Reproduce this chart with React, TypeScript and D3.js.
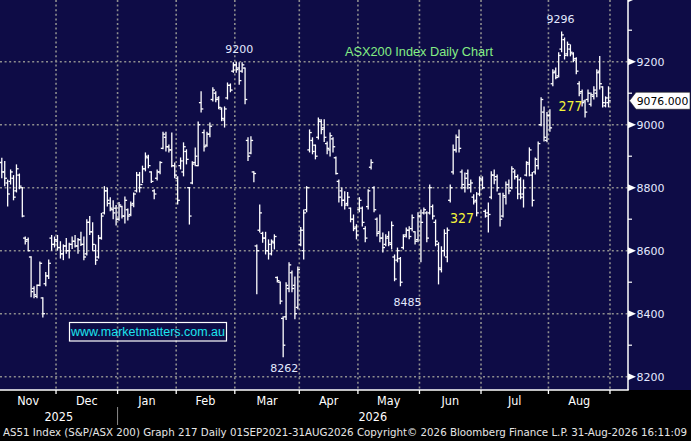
import React from "react";
import * as d3 from "d3";

// daily bars per month: [open, high, low, close]
const nov = [
  [8880, 8895, 8830, 8850], [8850, 8885, 8805, 8830], [8815, 8826, 8740, 8780],
  [8820, 8858, 8810, 8850], [8830, 8840, 8760, 8770], [8790, 8874, 8785, 8860],
  [8840, 8845, 8795, 8805], [8800, 8802, 8706, 8710], [8640, 8645, 8620, 8630],
  [8635, 8642, 8598, 8600], [8580, 8582, 8452, 8470], [8480, 8487, 8449, 8460],
  [8455, 8493, 8449, 8490], [8490, 8566, 8487, 8560], [8450, 8452, 8388, 8400],
  [8495, 8532, 8487, 8520], [8520, 8572, 8510, 8560], [8640, 8650, 8600, 8620],
  [8620, 8645, 8610, 8635],
];
const dec = [
  [8630, 8650, 8600, 8610], [8610, 8630, 8575, 8590], [8590, 8620, 8570, 8615],
  [8615, 8640, 8590, 8600], [8600, 8625, 8575, 8620], [8620, 8645, 8605, 8630],
  [8630, 8650, 8610, 8615], [8615, 8640, 8590, 8635], [8635, 8660, 8615, 8620],
  [8620, 8645, 8570, 8580], [8590, 8700, 8585, 8690], [8690, 8710, 8650, 8660],
  [8660, 8690, 8600, 8620], [8600, 8620, 8555, 8570], [8580, 8650, 8575, 8640],
  [8640, 8720, 8635, 8710], [8720, 8805, 8715, 8790], [8790, 8800, 8740, 8760],
  [8750, 8770, 8725, 8735], [8730, 8760, 8700, 8720], [8735, 8745, 8680, 8700],
];
const jan = [
  [8700, 8755, 8695, 8745], [8740, 8743, 8702, 8710], [8710, 8772, 8686, 8760],
  [8730, 8734, 8696, 8710], [8715, 8756, 8709, 8745], [8750, 8785, 8738, 8780],
  [8790, 8850, 8785, 8840], [8840, 8850, 8785, 8800], [8810, 8870, 8815, 8860],
  [8860, 8912, 8852, 8900], [8895, 8905, 8862, 8870], [8850, 8852, 8815, 8820],
  [8790, 8795, 8763, 8780], [8830, 8858, 8823, 8850], [8850, 8884, 8843, 8880],
  [8925, 8978, 8922, 8970], [8960, 8978, 8915, 8930], [8930, 8937, 8912, 8920],
  [8920, 8975, 8865, 8870], [8870, 8880, 8830, 8840],
];
const feb = [
  [8830, 8836, 8747, 8760], [8870, 8896, 8858, 8885], [8850, 8944, 8836, 8930],
  [8915, 8922, 8874, 8890], [8800, 8802, 8683, 8710], [8815, 8884, 8811, 8875],
  [8880, 8928, 8868, 8900], [8870, 9010, 8868, 9000], [9070, 9106, 9039, 9050],
  [8975, 8985, 8915, 8930], [8935, 8978, 8930, 8970], [8970, 9007, 8960, 8995],
  [9080, 9119, 9074, 9110], [9100, 9106, 9071, 9080], [9085, 9090, 9049, 9055],
  [9050, 9055, 9011, 9020], [9015, 9058, 8991, 9050], [9085, 9134, 9080, 9125],
  [9125, 9131, 9103, 9110], [9170, 9198, 9165, 9190],
];
const mar = [
  [9190, 9200, 9165, 9175], [9180, 9198, 9127, 9140], [9170, 9198, 9165, 9190],
  [9180, 9182, 9065, 9080], [8950, 8960, 8885, 8900], [8910, 8963, 8906, 8950],
  [8850, 8852, 8817, 8845], [8615, 8620, 8462, 8600], [8665, 8747, 8658, 8720],
  [8655, 8660, 8625, 8640], [8640, 8660, 8588, 8600], [8600, 8636, 8572, 8620],
  [8590, 8636, 8585, 8630], [8625, 8652, 8604, 8645], [8515, 8518, 8499, 8505],
  [8500, 8502, 8430, 8440], [8385, 8392, 8262, 8300], [8390, 8500, 8380, 8490],
  [8480, 8563, 8468, 8555], [8530, 8537, 8468, 8480], [8490, 8518, 8382, 8400],
  [8420, 8550, 8414, 8540],
];
const apr = [
  [8620, 8675, 8614, 8665], [8600, 8731, 8572, 8720], [8730, 8805, 8722, 8800],
  [8920, 8985, 8912, 8975], [8950, 8960, 8906, 8915], [8935, 8937, 8890, 8900],
  [8960, 9023, 8953, 9015], [9010, 9017, 8970, 8985], [8990, 9017, 8945, 8960],
  [8940, 8947, 8906, 8925], [8920, 8975, 8899, 8965], [8955, 8960, 8912, 8930],
  [8895, 8899, 8842, 8845], [8820, 8826, 8753, 8770], [8790, 8801, 8741, 8760],
  [8760, 8789, 8731, 8745], [8750, 8786, 8741, 8770], [8735, 8737, 8690, 8700],
  [8700, 8715, 8662, 8670], [8675, 8684, 8636, 8650],
];
const may = [
  [8730, 8770, 8722, 8760], [8735, 8740, 8677, 8690], [8670, 8678, 8627, 8640],
  [8740, 8795, 8731, 8790], [8865, 8890, 8858, 8880], [8800, 8805, 8722, 8730],
  [8700, 8705, 8645, 8655], [8660, 8715, 8627, 8640], [8640, 8658, 8594, 8610],
  [8620, 8652, 8614, 8640], [8645, 8662, 8614, 8625], [8620, 8693, 8604, 8680],
  [8580, 8588, 8503, 8510], [8570, 8610, 8563, 8600], [8575, 8580, 8487, 8500],
  [8610, 8652, 8604, 8645], [8650, 8674, 8642, 8665], [8665, 8678, 8636, 8645],
  [8670, 8715, 8662, 8705], [8660, 8662, 8620, 8630], [8635, 8722, 8627, 8710],
];
const jun = [
  [8710, 8731, 8563, 8690], [8720, 8737, 8715, 8730], [8720, 8725, 8627, 8640],
  [8720, 8810, 8715, 8800], [8740, 8747, 8699, 8710], [8690, 8699, 8614, 8630],
  [8620, 8627, 8493, 8545], [8540, 8614, 8531, 8600], [8600, 8668, 8582, 8655],
  [8580, 8674, 8563, 8665], [8760, 8810, 8753, 8800], [8850, 8937, 8842, 8920],
  [8920, 8969, 8912, 8960], [8960, 8985, 8912, 8925], [8850, 8858, 8795, 8810],
  [8800, 8848, 8785, 8830], [8845, 8858, 8795, 8810], [8800, 8826, 8785, 8815],
  [8770, 8779, 8747, 8755], [8760, 8786, 8709, 8720], [8780, 8836, 8773, 8830],
];
const jul = [
  [8825, 8836, 8795, 8800], [8725, 8731, 8705, 8710], [8720, 8753, 8658, 8715],
  [8770, 8852, 8763, 8840], [8840, 8858, 8811, 8825], [8835, 8842, 8788, 8800],
  [8780, 8784, 8677, 8700], [8710, 8784, 8705, 8775], [8770, 8820, 8747, 8810],
  [8810, 8826, 8779, 8790], [8800, 8868, 8795, 8860], [8850, 8858, 8826, 8835],
  [8835, 8842, 8763, 8780], [8825, 8833, 8763, 8770], [8780, 8826, 8737, 8800],
  [8840, 8884, 8836, 8880], [8875, 8928, 8836, 8920], [8840, 8850, 8740, 8760],
  [8850, 8896, 8842, 8890], [8870, 8947, 8858, 8940], [9000, 9087, 8995, 9080],
  [9040, 9058, 8947, 8960], [8950, 9040, 8944, 9030],
];
const aug = [
  [9030, 9049, 8978, 8990], [9130, 9176, 9122, 9165], [9170, 9182, 9144, 9150],
  [9155, 9230, 9150, 9220], [9240, 9296, 9230, 9285], [9270, 9277, 9207, 9220],
  [9225, 9264, 9217, 9255], [9240, 9255, 9217, 9230], [9225, 9230, 9198, 9205],
  [9210, 9214, 9160, 9170], [9130, 9138, 9090, 9100], [9105, 9112, 9058, 9070],
  [9075, 9080, 9023, 9040], [9080, 9112, 9071, 9100], [9065, 9102, 9058, 9095],
  [9090, 9122, 9080, 9110], [9100, 9176, 9087, 9165], [9170, 9218, 9112, 9130],
  [9120, 9122, 9055, 9070], [9060, 9090, 9055, 9085], [9070, 9122, 9055, 9076],
];

const monthBars = [nov, dec, jan, feb, mar, apr, may, jun, jul, aug];
const monthLabels = ["Nov", "Dec", "Jan", "Feb", "Mar", "Apr", "May", "Jun", "Jul", "Aug"];
const yearLabels = ["2025", "2026"];
const yearFirstMonth = [0, 2];

const majorTicks = [8200, 8400, 8600, 8800, 9000, 9200, 9400];
const minorTicks = [8300, 8500, 8700, 8900, 9100, 9300];
const lastPrice = 9076;

// white labels: text, bar index, price, x offset, y offset
const whiteNotes = [
  { text: "9200", bar: 80, price: 9200, dx: 3, dy: -12 },
  { text: "9296", bar: 191, price: 9296, dx: -1, dy: -12 },
  { text: "8262", bar: 96, price: 8262, dx: 1, dy: 11 },
  { text: "8485", bar: 136, price: 8487, dx: 7, dy: 16 },
];
const yellowNotes = [
  { text: "327", bar: 157, price: 8704 },
  { text: "277", bar: 194, price: 9059 },
];

const W = 691;
const H = 441;
const plotRight = 628;
const plotBottom = 390;

export default function App() {
  const bars = monthBars.flat();
  const starts: number[] = [];
  let acc = 0;
  monthBars.forEach((m) => {
    starts.push(acc);
    acc += m.length;
  });
  const n = bars.length;

  const x = d3.scaleLinear().domain([0, n - 1]).range([1.8, 1.8 + 2.931 * (n - 1)]);
  const y = d3.scaleLinear().domain([8189.5, 9395.9]).range([380, 0]);

  const boundaries = starts.slice(1).concat([n]).map((s) => x(s - 0.5));
  const axisFont = "'DejaVu Sans', Verdana, sans-serif";
  const narrow = "'Liberation Sans Narrow', 'Arial Narrow', 'DejaVu Sans Condensed', sans-serif";
  const sans = "'Liberation Sans', Arial, sans-serif";

  const yearEdges = [0, x(starts[yearFirstMonth[1]] - 0.5), plotRight];

  return (
    <div style={{ position: "absolute", left: 0, top: 0 }}>
      <svg width={W} height={H} style={{ display: "block", background: "#000" }}>
        <rect x={0} y={0} width={W} height={plotBottom} fill="#0e0c46" />

        {/* gridlines */}
        {majorTicks.filter((t) => y(t) > 2).map((t) => (
          <line key={"h" + t} x1={0} x2={plotRight} y1={y(t)} y2={y(t)}
            stroke="#8e8e8e" strokeWidth={1.6} strokeDasharray="2 2.6" />
        ))}
        {boundaries.map((bx, i) => (
          <line key={"v" + i} x1={bx} x2={bx} y1={0} y2={plotBottom}
            stroke="#8e8e8e" strokeWidth={1.6} strokeDasharray="2 2.6" />
        ))}

        {/* OHLC bars */}
        <g stroke="#fff" strokeWidth={1.3}>
          {bars.map((b, i) => {
            const [o, h, l, c] = b;
            const cx = x(i);
            return (
              <g key={i}>
                <line x1={cx} x2={cx} y1={y(h)} y2={y(l)} />
                <line x1={cx - 2.2} x2={cx} y1={y(o)} y2={y(o)} />
                <line x1={cx} x2={cx + 2.2} y1={y(c)} y2={y(c)} />
              </g>
            );
          })}
        </g>

        {/* axes */}
        <line x1={plotRight} x2={plotRight} y1={0} y2={plotBottom} stroke="#fff" strokeWidth={1.5} />
        <line x1={0} x2={plotRight + 0.75} y1={plotBottom} y2={plotBottom} stroke="#fff" strokeWidth={1.5} />
        {boundaries.map((bx, i) => (
          <line key={"bt" + i} x1={bx} x2={bx} y1={plotBottom} y2={plotBottom + 4} stroke="#fff" strokeWidth={1.3} />
        ))}
        {majorTicks.map((t) => (
          <g key={"mt" + t}>
            <polygon points={`${plotRight},${y(t) - 3.5} ${plotRight + 8},${y(t)} ${plotRight},${y(t) + 3.5}`} fill="#fff" />
            {t <= 9200 && (
              <text x={plotRight + 8.5} y={y(t) + 0.5} dominantBaseline="central" fill="#e4eaff"
                fontFamily={axisFont} fontSize={11}>{t}</text>
            )}
          </g>
        ))}
        {minorTicks.map((t) => (
          <line key={"mn" + t} x1={plotRight} x2={plotRight + 4} y1={y(t)} y2={y(t)} stroke="#fff" strokeWidth={1.2} />
        ))}

        {/* last price tag */}
        <polygon
          points={`${plotRight + 1.5},${y(lastPrice)} ${plotRight + 8},${y(lastPrice) - 8.5} 690,${y(lastPrice) - 8.5} 690,${y(lastPrice) + 8.5} ${plotRight + 8},${y(lastPrice) + 8.5}`}
          fill="#fff" stroke="#222" strokeWidth={0.6} />
        <text x={662.5} y={y(lastPrice) + 0.5} textAnchor="middle" dominantBaseline="central"
          fill="#000" fontFamily={axisFont} fontSize={10.8}>{lastPrice.toFixed(3)}</text>

        {/* month and year labels */}
        {monthLabels.map((m, i) => {
          const s = starts[i];
          const e = s + monthBars[i].length - 1;
          return (
            <text key={m} x={x((s + e) / 2)} y={400.5} textAnchor="middle" dominantBaseline="central"
              fill="#fff" fontFamily={narrow} fontSize={12.5}>{m}</text>
          );
        })}
        {yearLabels.map((yl, i) => (
          <text key={yl} x={(yearEdges[i] + yearEdges[i + 1]) / 2} y={416.5} textAnchor="middle"
            dominantBaseline="central" fill="#fff" fontFamily={narrow} fontSize={12.5}>{yl}</text>
        ))}
        <line x1={yearEdges[1]} x2={yearEdges[1]} y1={407} y2={425} stroke="#8a8a8a" strokeWidth={1} />

        {/* annotations */}
        {whiteNotes.map((a) => (
          <text key={a.text} x={x(a.bar) + a.dx} y={y(a.price) + a.dy} textAnchor="middle"
            dominantBaseline="central" fill="#e4eaff" fontFamily={axisFont} fontSize={11}>{a.text}</text>
        ))}
        {yellowNotes.map((a) => (
          <text key={a.text} x={x(a.bar)} y={y(a.price)} textAnchor="middle" dominantBaseline="central"
            fill="#f4f43a" fontFamily={narrow} fontSize={14}>{a.text}</text>
        ))}
        <text x={345} y={51.5} dominantBaseline="central" fill="#84ee84" fontFamily={sans}
          fontSize={12.7} textLength={148} lengthAdjust="spacingAndGlyphs">ASX200 Index Daily Chart</text>

        <rect x={69.5} y={322.5} width={157} height={18.5} fill="none" stroke="#fff" strokeWidth={1.2} />
        <text x={71} y={332} dominantBaseline="central" fill="#1de4ee" fontFamily={sans}
          fontSize={12.5} textLength={154} lengthAdjust="spacingAndGlyphs">www.marketmatters.com.au</text>

        <text x={3} y={432.5} dominantBaseline="central" fill="#e6e6e6" fontFamily={narrow}
          fontSize={11.3} textLength={684} lengthAdjust="spacingAndGlyphs">
          AS51 Index (S&amp;P/ASX 200) Graph 217 Daily 01SEP2021-31AUG2026  Copyright© 2026 Bloomberg Finance L.P.  31-Aug-2026 16:11:09
        </text>
      </svg>
    </div>
  );
}
